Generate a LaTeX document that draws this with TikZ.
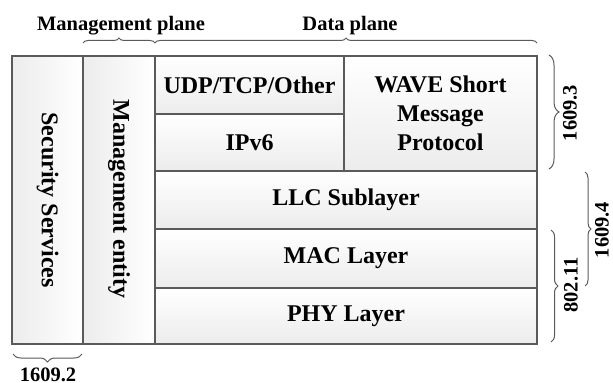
\documentclass[tikz,border=0pt]{standalone}
\usepackage{fontspec}
\setmainfont{Liberation Serif}
\usetikzlibrary{decorations.pathreplacing}
\definecolor{edge}{RGB}{90,90,90}
\definecolor{fillb}{RGB}{236,236,236}
\begin{document}
\begin{tikzpicture}[x=0.5pt,y=-0.5pt,
  hbox/.style={draw=edge,line width=0.6pt,top color=white,bottom color=fillb},
  vbox/.style={draw=edge,line width=0.6pt,left color=fillb,right color=white},
  txt/.style={font=\fontsize{12}{14.5}\selectfont\bfseries,align=center,inner sep=0pt},
  lbl/.style={font=\fontsize{10.25}{12}\selectfont\bfseries,inner sep=0pt},
  brc/.style={draw=edge,line width=0.5pt,decorate,decoration={brace,amplitude=#1}}]
\useasboundingbox (0,0) rectangle (613,383);
% boxes
\draw[vbox] (12,56) rectangle (83,344);
\draw[vbox] (83,56) rectangle (155,344);
\draw[hbox] (155,56) rectangle (344,114);
\draw[hbox] (155,114) rectangle (344,171);
\draw[hbox] (344,56) rectangle (537,171);
\draw[hbox] (155,171) rectangle (537,229);
\draw[hbox] (155,229) rectangle (537,288);
\draw[hbox] (155,288) rectangle (537,344);
% texts
\node[txt,rotate=-90] (sec) at (47.5,200) {Security Services};
\node[txt,rotate=-90] (mgmt) at (119,199) {Management entity};
\node[txt] (udp) at (249.5,85) {UDP/TCP/Other};
\node[txt] (ipv6) at (249.5,142.5) {IPv6};
\node[txt] (wave) at (440.5,113) {WAVE Short\\Message\\Protocol};
\node[txt] (llc) at (346,200) {LLC Sublayer};
\node[txt] (mac) at (346,258.5) {MAC Layer};
\node[txt] (phy) at (346,316) {PHY Layer};
% braces
\coordinate (mpa) at (83,43); \coordinate (mpb) at (155,43);
\coordinate (dpa) at (155,43); \coordinate (dpb) at (537,43);
\draw[brc=2.5pt] (mpa) -- (mpb);
\draw[brc=2.5pt] (dpa) -- (dpb);
\node[lbl,anchor=base] (mplane) at (121,31) {Management plane};
\node[lbl,anchor=base] (dplane) at (350,31) {Data plane};
\coordinate (b3a) at (549,55); \coordinate (b3b) at (549,169);
\draw[brc=5pt] (b3a) -- (b3b);
\node[lbl,rotate=90] (l3) at (570,113) {1609.3};
\coordinate (b4a) at (585,172); \coordinate (b4b) at (585,286);
\draw[brc=3pt] (b4a) -- (b4b);
\node[lbl,rotate=90] (l4) at (602,230) {1609.4};
\coordinate (b11a) at (551,230); \coordinate (b11b) at (551,342);
\draw[brc=3.5pt] (b11a) -- (b11b);
\node[lbl,rotate=90] (l11) at (571,285) {802.11};
\coordinate (b2a) at (82,354); \coordinate (b2b) at (13,354);
\draw[brc=4pt] (b2a) -- (b2b);
\node[lbl,anchor=base] (l2) at (48,381) {1609.2};
\end{tikzpicture}
\end{document}
